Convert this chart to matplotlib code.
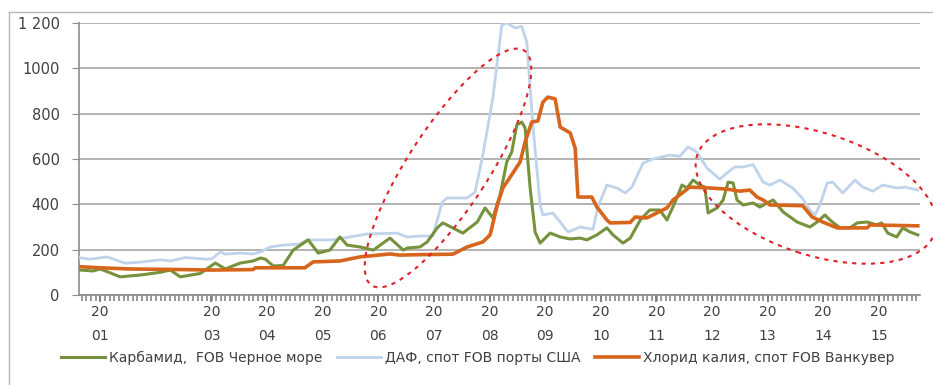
import matplotlib.pyplot as plt
from matplotlib.patches import Ellipse
import numpy as np

# Карбамид, FOB Черное море
urea_t = [2000.64, 2000.87, 2001.00, 2001.36, 2001.72, 2002.08, 2002.26, 2002.44, 2002.80, 2003.07,
          2003.25, 2003.52, 2003.75, 2003.88, 2003.97, 2004.11, 2004.29, 2004.47, 2004.74, 2004.92,
          2005.13, 2005.31, 2005.44, 2005.67, 2005.91, 2006.21, 2006.45, 2006.52, 2006.75, 2006.88,
          2007.06, 2007.16, 2007.34, 2007.52, 2007.78, 2007.92, 2008.06, 2008.19, 2008.31, 2008.40,
          2008.49, 2008.58, 2008.64, 2008.73, 2008.82, 2008.91, 2009.09, 2009.27, 2009.45, 2009.63,
          2009.75, 2009.93, 2010.11, 2010.22, 2010.40, 2010.53, 2010.71, 2010.88, 2011.06, 2011.19,
          2011.33, 2011.46, 2011.55, 2011.66, 2011.78, 2011.87, 2011.93, 2012.09, 2012.20, 2012.29,
          2012.38, 2012.45, 2012.56, 2012.74, 2012.86, 2012.99, 2013.10, 2013.28, 2013.53, 2013.76,
          2013.89, 2014.03, 2014.12, 2014.30, 2014.48, 2014.61, 2014.79, 2014.96, 2015.05, 2015.16,
          2015.32, 2015.43, 2015.56, 2015.70]
urea = [110, 106, 115, 80, 88, 100, 110, 80, 95, 141,
        115, 141, 150, 163, 158, 128, 130, 198, 243, 185,
        198, 256, 220, 212, 198, 251, 198, 207, 212, 234,
        296, 318, 296, 273, 322, 384, 340, 441, 587, 631,
        750, 763, 737, 472, 278, 229, 273, 256, 247, 251,
        243, 265, 296, 265, 229, 251, 331, 375, 375, 331,
        406, 485, 472, 507, 485, 476, 362, 384, 419, 498,
        494, 419, 397, 406, 388, 406, 419, 366, 322, 300,
        322, 353, 331, 296, 296, 318, 322, 309, 318, 273,
        256, 296, 278, 265]

# ДАФ, спот FOB порты США
dap_t = [2000.62, 2000.82, 2001.13, 2001.45, 2001.72, 2002.08, 2002.26, 2002.53, 2002.92, 2003.01,
         2003.16, 2003.25, 2003.52, 2003.75, 2003.88, 2004.06, 2004.29, 2004.59, 2004.72, 2005.19,
         2005.49, 2005.80, 2006.34, 2006.52, 2006.75, 2006.98, 2007.15, 2007.24, 2007.60, 2007.74,
         2007.88, 2008.06, 2008.22, 2008.31, 2008.46, 2008.58, 2008.67, 2008.78, 2008.91, 2008.96,
         2009.14, 2009.27, 2009.41, 2009.63, 2009.86, 2009.95, 2010.11, 2010.29, 2010.44, 2010.56,
         2010.76, 2010.94, 2011.24, 2011.42, 2011.57, 2011.73, 2011.91, 2012.14, 2012.27, 2012.41,
         2012.56, 2012.74, 2012.92, 2013.04, 2013.22, 2013.45, 2013.62, 2013.76, 2013.85, 2013.94,
         2014.07, 2014.17, 2014.35, 2014.57, 2014.71, 2014.89, 2015.07, 2015.32, 2015.47, 2015.70]
dap = [165, 158, 168, 140, 145, 155, 150, 165, 158, 160,
       190, 180, 185, 181, 190, 212, 220, 225, 243, 243,
       256, 269, 273, 256, 260, 260, 410, 428, 428, 454,
       617, 869, 1190, 1200, 1178, 1185, 1115, 750, 397, 353,
       361, 322, 278, 300, 290, 388, 485, 472, 450, 476,
       582, 600, 617, 612, 653, 630, 560, 511, 538, 565,
       565, 575, 498, 485, 507, 472, 428, 375, 353, 397,
       494, 498, 450, 507, 476, 458, 485, 472, 476, 463]

# Хлорид калия, спот FOB Ванкувер
potash_t = [2000.62, 2001.00, 2001.50, 2002.50, 2003.01, 2003.75, 2003.79, 2004.68, 2004.83, 2005.31,
            2005.67, 2006.21, 2006.39, 2006.75, 2007.34, 2007.60, 2007.88, 2008.01, 2008.14, 2008.24,
            2008.42, 2008.55, 2008.64, 2008.76, 2008.87, 2008.96, 2009.05, 2009.18, 2009.27, 2009.45,
            2009.54, 2009.59, 2009.84, 2009.93, 2010.11, 2010.17, 2010.53, 2010.62, 2010.83, 2011.19,
            2011.30, 2011.60, 2011.96, 2012.27, 2012.50, 2012.68, 2012.81, 2012.92, 2013.04, 2013.63,
            2013.80, 2013.99, 2014.25, 2014.79, 2014.84, 2015.70]
potash = [125, 120, 115, 112, 110, 112, 120, 120, 146, 150,
          168, 181, 176, 178, 180, 212, 234, 265, 397, 472,
          538, 587, 675, 763, 768, 851, 873, 865, 741, 715,
          648, 432, 432, 388, 331, 318, 320, 344, 340, 384,
          419, 476, 472, 467, 458, 463, 432, 419, 397, 394,
          344, 322, 296, 296, 309, 305]

years = [2001, 2003, 2004, 2005, 2006, 2007, 2008, 2009, 2010, 2011, 2012, 2013, 2014, 2015]
year_labels = ['20\n01', '20\n03', '20\n04', '20\n05', '20\n06', '20\n07', '20\n08',
               '20\n09', '20\n10', '20\n11', '20\n12', '20\n13', '20\n14', '20\n15']

txt = '#404040'
fig = plt.figure(figsize=(9.33, 3.85), dpi=100)
ax = fig.add_axes([0.0847, 0.2338, 0.9014, 0.7065])

ax.plot(dap_t, dap, color='#bfd3ea', lw=2, label='ДАФ, спот FOB порты США', zorder=3)
ax.plot(urea_t, urea, color='#76923c', lw=2.2, label='Карбамид,  FOB Черное море', zorder=4)
ax.plot(potash_t, potash, color='#d7651c', lw=2.6, label='Хлорид калия, спот FOB Ванкувер', zorder=5)

ax.set_xlim(2000.62, 2015.74)
ax.set_ylim(0, 1200)
ax.set_yticks(range(0, 1201, 200))
ax.set_yticklabels(['0', '200', '400', '600', '800', '1000', '1 200'])
ax.grid(axis='y', color='#b3b3b3', lw=1.4)
ax.set_axisbelow(True)
ax.set_xticks(years)
ax.set_xticklabels(year_labels, linespacing=1.9)
ax.set_xticks(np.arange(2000.67, 2015.74, 1 / 12), minor=True)
ax.tick_params(axis='x', which='major', direction='out', length=5, width=1.2, color='#707070',
               labelsize=10, labelcolor=txt, pad=2)
ax.tick_params(axis='x', which='minor', direction='out', length=4, width=1.1, color='#808080')
ax.tick_params(axis='y', length=5, color='#8c8c8c', labelsize=10.5, labelcolor=txt, pad=9)
for s in ['top', 'right']:
    ax.spines[s].set_visible(False)
for s in ['left', 'bottom']:
    ax.spines[s].set_color('#8c8c8c')
    ax.spines[s].set_linewidth(1.2)

# dotted ellipses (inches in figure)
for cx, cy, w, h, ang in [(4.48, 2.17, 2.80, 0.80, 57), (8.16, 1.91, 2.50, 1.22, -18)]:
    e = Ellipse((cx, cy), w, h, angle=ang, transform=fig.dpi_scale_trans, fill=False,
                edgecolor='#e0202a', lw=1.5, linestyle=(0, (2, 2.5)), clip_on=False, zorder=10)
    fig.add_artist(e)

# outer frame
fig.add_artist(plt.Line2D([9 / 933, 9 / 933], [0, 1 - 12 / 385], color='#b8b8b8', lw=1))
fig.add_artist(plt.Line2D([9 / 933, 1], [1 - 12 / 385, 1 - 12 / 385], color='#b8b8b8', lw=1))

h, l = ax.get_legend_handles_labels()
order = [1, 0, 2]
fig.legend([h[i] for i in order], [l[i] for i in order], loc='center', bbox_to_anchor=(0.512, 0.07),
           ncol=3, frameon=False, fontsize=10, labelcolor=txt, handlelength=3.2,
           handletextpad=0.3, columnspacing=1.0)

plt.savefig('out.png', dpi=100)
